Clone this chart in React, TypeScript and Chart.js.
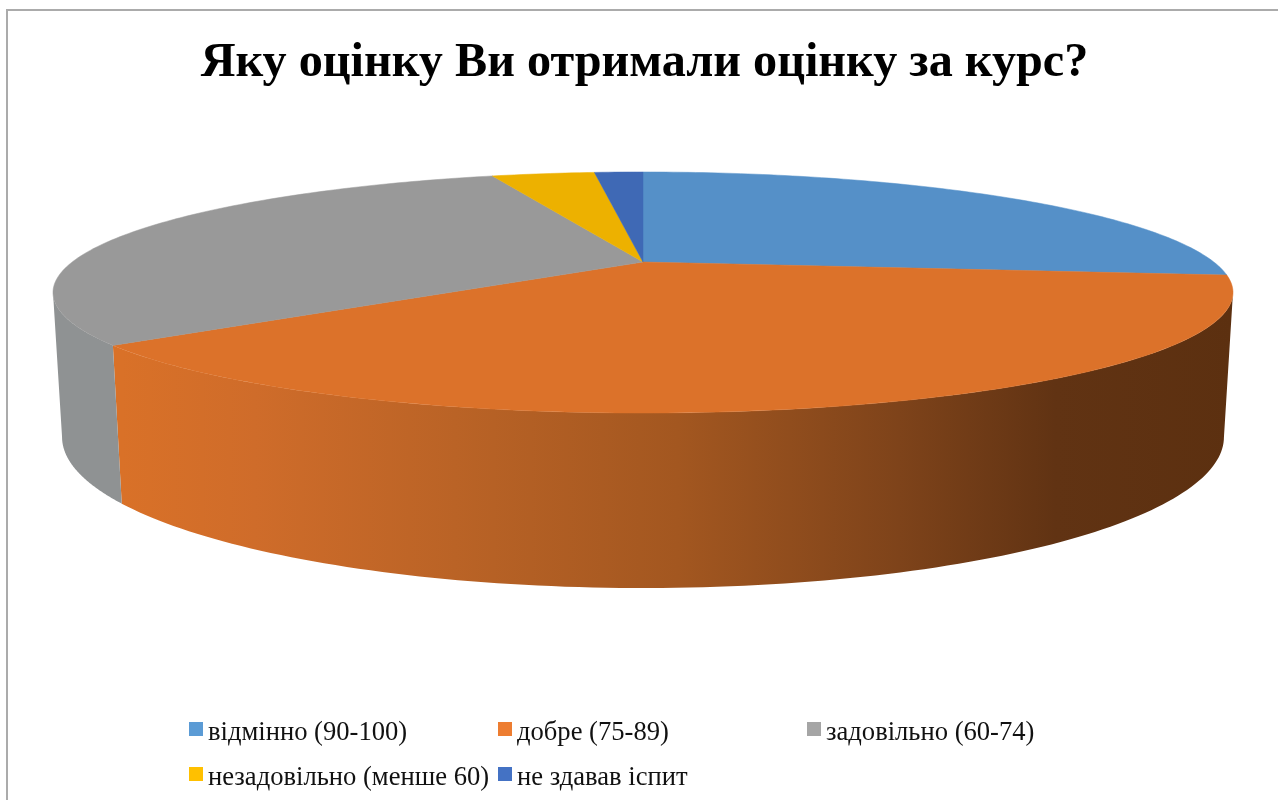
import React, { useEffect, useRef } from "react";
import { Chart, registerables } from "chart.js";

Chart.register(...registerables);

const titleText = "Яку оцінку Ви отримали оцінку за курс?";
const categories = [
  "відмінно (90-100)",
  "добре (75-89)",
  "задовільно (60-74)",
  "незадовільно (менше 60)",
  "не здавав іспит",
];
const shares = [26.8, 37.5, 30.4, 3.6, 1.7];
const faceColors = ["#5590C8", "#DC722A", "#999999", "#EDB100", "#3F69B5"];
const legendColors = ["#5B9BD5", "#ED7D31", "#A5A5A5", "#FFC000", "#4472C4"];
const wallColors = ["#3A5F85", "", "#8F9293", "#9A7300", "#2A4678"];
const orangeWallStops: [number, string][] = [
  [0, "#D97128"],
  [0.12, "#CF6C2A"],
  [0.3, "#BA6326"],
  [0.5, "#A35720"],
  [0.7, "#7E431A"],
  [0.84, "#613313"],
  [1, "#5C3010"],
];

// perspective of the top and bottom rims of the disc
const topRim = { cx: 643, cy: 262, a: 570.8, b: 112.8, k: -0.253 };
const bottomRim = { cx: 643, cy: 399.2, a: 562.5, b: 141.6, k: -0.25 };
const project = (r: typeof topRim, t: number) => {
  const d = 1 + r.k * Math.sin(t);
  return [r.cx + (r.a * Math.cos(t)) / d, r.cy + (r.b * Math.sin(t)) / d];
};

const legendCols = [189, 498, 807];
const legendRows = [722, 767];

const pie3d = {
  id: "pie3d",
  beforeDatasetDraw(chart: any) {
    const ctx: CanvasRenderingContext2D = chart.ctx;
    const arcs = chart.getDatasetMeta(0).data;
    const grad = ctx.createLinearGradient(122, 0, 1233, 0);
    orangeWallStops.forEach(([o, c]) => grad.addColorStop(o, c));

    // side walls: seen only between the two widest points of each rim
    arcs.forEach((arc: any, i: number) => {
      const fromTop = Math.asin(-topRim.k);
      const fromBottom = Math.asin(-bottomRim.k);
      const s0 = Math.max(arc.startAngle, fromTop);
      const e0 = Math.min(arc.endAngle, Math.PI - fromTop);
      const s1 = Math.max(arc.startAngle, fromBottom);
      const e1 = Math.min(arc.endAngle, Math.PI - fromBottom);
      if (e0 <= s0 || e1 <= s1) return;
      const steps = 120;
      ctx.beginPath();
      for (let n = 0; n <= steps; n++) {
        const [x, y] = project(topRim, s0 + ((e0 - s0) * n) / steps);
        n ? ctx.lineTo(x, y) : ctx.moveTo(x, y);
      }
      for (let n = steps; n >= 0; n--) {
        const [x, y] = project(bottomRim, s1 + ((e1 - s1) * n) / steps);
        ctx.lineTo(x, y);
      }
      ctx.closePath();
      ctx.fillStyle = i === 1 ? grad : wallColors[i];
      ctx.fill();
    });

    // top faces
    arcs.forEach((arc: any, i: number) => {
      const s = arc.startAngle, e = arc.endAngle;
      const steps = Math.max(4, Math.ceil((e - s) * 60));
      ctx.beginPath();
      ctx.moveTo(topRim.cx, topRim.cy);
      for (let n = 0; n <= steps; n++) {
        const [x, y] = project(topRim, s + ((e - s) * n) / steps);
        ctx.lineTo(x, y);
      }
      ctx.closePath();
      ctx.fillStyle = faceColors[i];
      ctx.strokeStyle = faceColors[i];
      ctx.lineWidth = 0.5;
      ctx.fill();
      ctx.stroke();
    });
    return false;
  },
  afterDraw(chart: any) {
    const ctx: CanvasRenderingContext2D = chart.ctx;
    // chart frame: only the top and left edges fall inside the picture
    ctx.fillStyle = "#ABABAB";
    ctx.fillRect(6, 9, 1272, 2);
    ctx.fillRect(6, 9, 2, 791);
    // legend
    ctx.font = '26.6px "Liberation Serif"';
    ctx.textBaseline = "alphabetic";
    ctx.textAlign = "left";
    chart.data.labels.forEach((label: string, i: number) => {
      const x = legendCols[i % 3];
      const y = legendRows[Math.floor(i / 3)];
      ctx.fillStyle = legendColors[i];
      ctx.fillRect(x, y, 14, 14);
      ctx.fillStyle = "#111111";
      ctx.fillText(label, x + 19, y + 18);
    });
  },
};

export default function App() {
  const ref = useRef<HTMLCanvasElement>(null);
  useEffect(() => {
    document.body.style.margin = "0";
    document.body.style.background = "#ffffff";
    const chart = new Chart(ref.current!, {
      type: "pie",
      data: {
        labels: categories,
        datasets: [{ data: shares, backgroundColor: legendColors, borderWidth: 0 }],
      },
      options: {
        responsive: false,
        animation: false,
        layout: { padding: { top: 35, left: 11 } },
        plugins: {
          legend: { display: false },
          tooltip: { enabled: false },
          title: {
            display: true,
            text: titleText,
            color: "#000000",
            font: { family: '"Liberation Serif"', size: 48.2, weight: "bold" },
            padding: { top: 0, bottom: 0 },
          },
        },
      },
      plugins: [pie3d],
    } as any);
    return () => chart.destroy();
  }, []);
  return <canvas ref={ref} width={1278} height={800} style={{ display: "block" }} />;
}
